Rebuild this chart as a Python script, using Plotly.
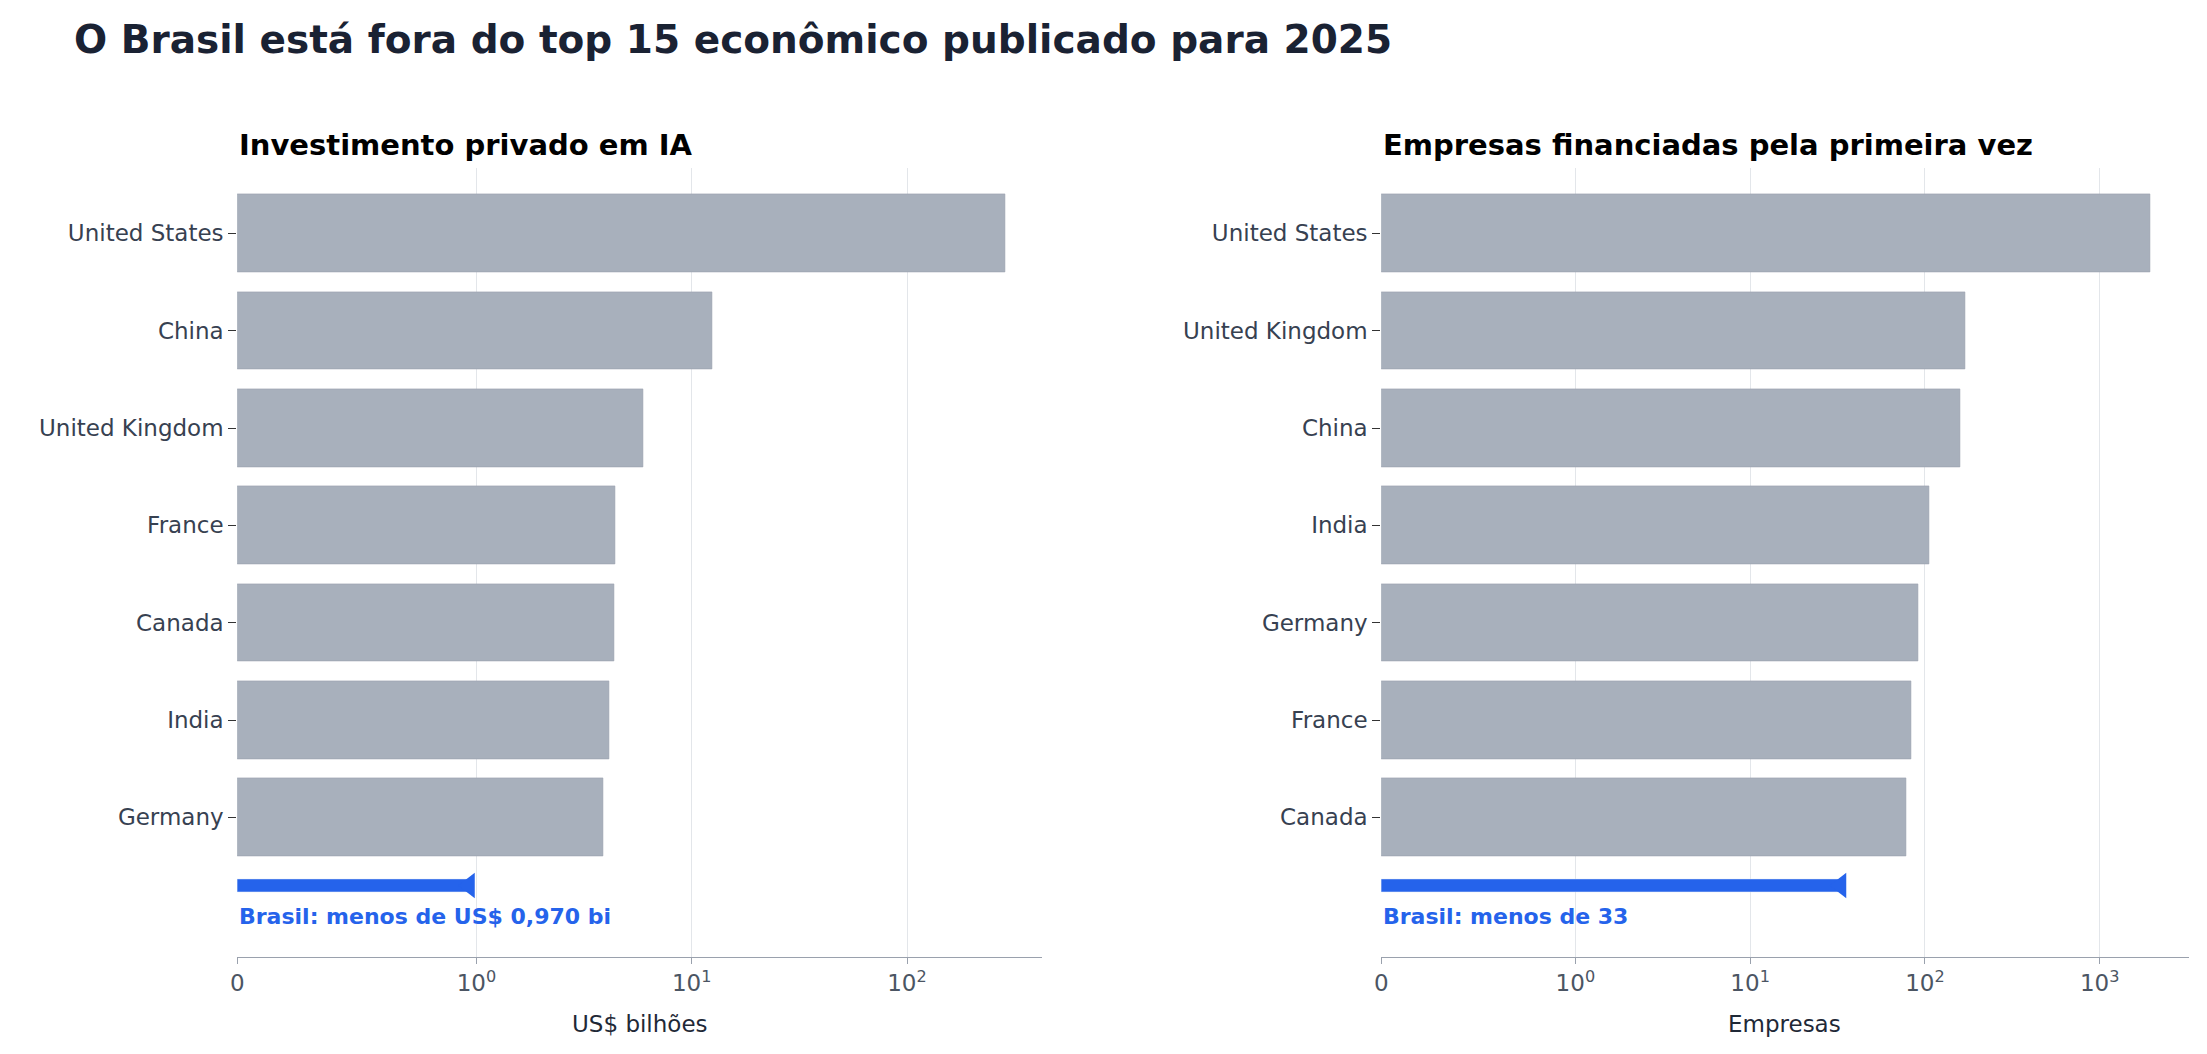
import numpy as np
import plotly.graph_objects as go

# valores
inv_paises = ["United States", "China", "United Kingdom", "France", "Canada", "India", "Germany"]
inv_valores = [286, 12.5, 5.97, 4.4, 4.35, 4.15, 3.9]
inv_brasil = 0.970

emp_paises = ["United States", "United Kingdom", "China", "India", "Germany", "France", "Canada"]
emp_valores = [1950, 171, 159, 106, 91, 83, 78.5]
emp_brasil = 33

tick_vals = [0, 1, 10, 100, 1000]
tick_text = ["0", "10<sup>0</sup>", "10<sup>1</sup>", "10<sup>2</sup>", "10<sup>3</sup>"]

CINZA = "#a8b0bc"
AZUL = "#2563eb"
LIN = 1 / (1 - 1 / 10)  # largura da regiao linear do symlog (matplotlib)


def symlog(v):
    v = np.asarray(v, dtype=float)
    return np.where(v <= 1, v * LIN, LIN + np.log10(np.maximum(v, 1)))


fig = go.Figure()

paineis = [
    (inv_paises, inv_valores, inv_brasil, "Brasil: menos de US$ 0,970 bi", "x", "y", 3.74, 4),
    (emp_paises, emp_valores, emp_brasil, "Brasil: menos de 33", "x2", "y2", 4.62, 5),
]

for paises, valores, brasil, txt, xa, ya, xmax, nt in paineis:
    ypos = list(range(len(paises)))
    fig.add_trace(go.Bar(x=symlog(valores), y=ypos, orientation="h", width=0.8,
                         marker=dict(color=CINZA, line=dict(width=0.6, color="#98a0ac")),
                         xaxis=xa, yaxis=ya, showlegend=False))
    yb = len(paises) - 0.3
    fig.add_trace(go.Bar(x=[float(symlog(brasil))], y=[yb], orientation="h", width=0.14,
                         marker=dict(color=AZUL), xaxis=xa, yaxis=ya, showlegend=False))
    fig.add_trace(go.Scatter(x=[float(symlog(brasil))], y=[yb], mode="markers",
                             marker=dict(symbol="triangle-left", size=22, color=AZUL),
                             xaxis=xa, yaxis=ya, showlegend=False, cliponaxis=False))
    fig.add_annotation(x=0, y=yb + 0.32, text=f"<b>{txt}</b>", xref=xa, yref=ya,
                       xanchor="left", yanchor="middle", showarrow=False,
                       font=dict(size=22, color=AZUL))
    sfx = "" if xa == "x" else "2"
    fig.update_layout(**{
        "xaxis" + sfx: dict(range=[0, xmax], tickvals=list(symlog(tick_vals[:nt])),
                            ticktext=tick_text[:nt], showgrid=True, gridcolor="#e3e6ea",
                            zeroline=False, showline=True, linecolor="#9aa1ad",
                            ticks="outside", ticklen=6, tickcolor="#9aa1ad",
                            tickfont=dict(size=23, color="#4b5563")),
        "yaxis" + sfx: dict(range=[len(paises) + 0.43, -0.67], tickvals=ypos, ticktext=paises,
                            showgrid=False, zeroline=False, showline=False, ticks="outside",
                            ticklen=8, tickcolor="#333", tickfont=dict(size=23, color="#374151")),
    })

fig.update_layout(
    width=2207, height=1054, margin=dict(l=0, r=0, t=0, b=0),
    paper_bgcolor="white", plot_bgcolor="white", bargap=0,
    font=dict(family="DejaVu Sans"),
    xaxis=dict(domain=[0.101, 0.467], anchor="y"),
    yaxis=dict(domain=[0.100, 0.848], anchor="x"),
    xaxis2=dict(domain=[0.621, 0.988], anchor="y2"),
    yaxis2=dict(domain=[0.100, 0.848], anchor="x2"),
)
fig.add_annotation(x=0.026, y=0.97, xref="paper", yref="paper", xanchor="left", yanchor="middle",
                   text="<b>O Brasil está fora do top 15 econômico publicado para 2025</b>",
                   showarrow=False, font=dict(size=39, color="#1a2233"))
for x0, t in [(0.101, "Investimento privado em IA"), (0.621, "Empresas financiadas pela primeira vez")]:
    fig.add_annotation(x=x0, y=0.87, xref="paper", yref="paper", xanchor="left", yanchor="middle",
                       text=f"<b>{t}</b>", showarrow=False, font=dict(size=29, color="black"))
for x0, t in [(0.284, "US$ bilhões"), (0.8045, "Empresas")]:
    fig.add_annotation(x=x0, y=0.022, xref="paper", yref="paper", xanchor="center", yanchor="bottom",
                       text=t, showarrow=False, font=dict(size=23, color="#1f2937"))

fig.write_html("out.html")
